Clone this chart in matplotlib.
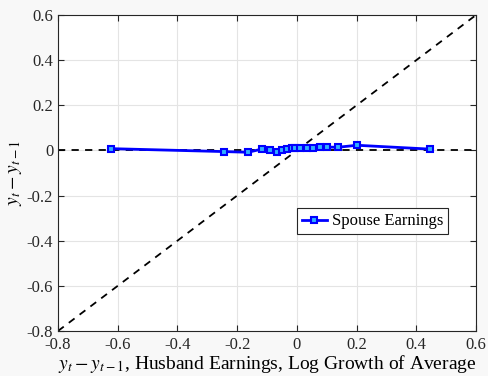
import numpy as np
import matplotlib
matplotlib.use('Agg')
from matplotlib import pyplot as plt

plt.rcParams['font.family'] = ['Liberation Serif', 'DejaVu Serif']
plt.rcParams['mathtext.fontset'] = 'stix'

# husband earnings growth (x) vs spouse earnings growth (y)
husband_growth = [-0.623, -0.245, -0.164, -0.117, -0.090, -0.067, -0.050, -0.033, -0.017,
                  -0.007, 0.010, 0.033, 0.054, 0.077, 0.100, 0.137, 0.201, 0.445]
spouse_growth = [0.008, -0.005, -0.008, 0.006, 0.002, -0.006, 0.002, 0.006, 0.009,
                 0.010, 0.011, 0.012, 0.013, 0.014, 0.015, 0.014, 0.023, 0.006]

xticks = [-0.8, -0.6, -0.4, -0.2, 0, 0.2, 0.4, 0.6]
yticks = [-0.8, -0.6, -0.4, -0.2, 0, 0.2, 0.4, 0.6]
tick_labels = ['-0.8', '-0.6', '-0.4', '-0.2', '0', '0.2', '0.4', '0.6']

fig = plt.figure(figsize=(4.89, 3.76), dpi=100, facecolor='#f8f8f8')
ax = fig.add_axes([0.1186, 0.1197, 0.8548, 0.8403])
ax.set_facecolor('white')

ref = np.array([-0.8, 0.6])
ax.plot(ref, ref, '--', color='black', lw=1.3, dashes=(4, 3.5))
ax.plot(ref, [0, 0], '--', color='black', lw=1.3, dashes=(4, 3.5))
ax.plot(husband_growth, spouse_growth, '-s', color='#0000ff', lw=2, ms=5,
        mfc='#30b0ff', mec='#0000ff', mew=1.5, label='Spouse Earnings')

ax.set_xlim(-0.8, 0.6)
ax.set_ylim(-0.8, 0.6)
ax.set_xticks(xticks)
ax.set_yticks(yticks)
ax.set_xticklabels(tick_labels)
ax.set_yticklabels(tick_labels)
ax.tick_params(direction='in', top=True, right=True, labelsize=12, length=4, colors='#262626')
ax.tick_params(axis='x', pad=4)
ax.grid(True, color='#e4e4e4', lw=0.8)
ax.set_axisbelow(True)
for s in ax.spines.values():
    s.set_color('#262626')

ax.set_xlabel(r'$y_t - y_{t-1}$, Husband Earnings, Log Growth of Average', fontsize=14, labelpad=0)
ax.set_ylabel(r'$y_t - y_{t-1}$', fontsize=14, labelpad=2)

leg = ax.legend(loc='center', bbox_to_anchor=(0.752, 0.347), fontsize=12, fancybox=False,
                framealpha=1, edgecolor='#262626', handlelength=1.5, borderpad=0.3,
                handletextpad=0.3, borderaxespad=0)
leg.get_frame().set_linewidth(0.8)

fig.savefig('out.png', dpi=100, facecolor=fig.get_facecolor())
